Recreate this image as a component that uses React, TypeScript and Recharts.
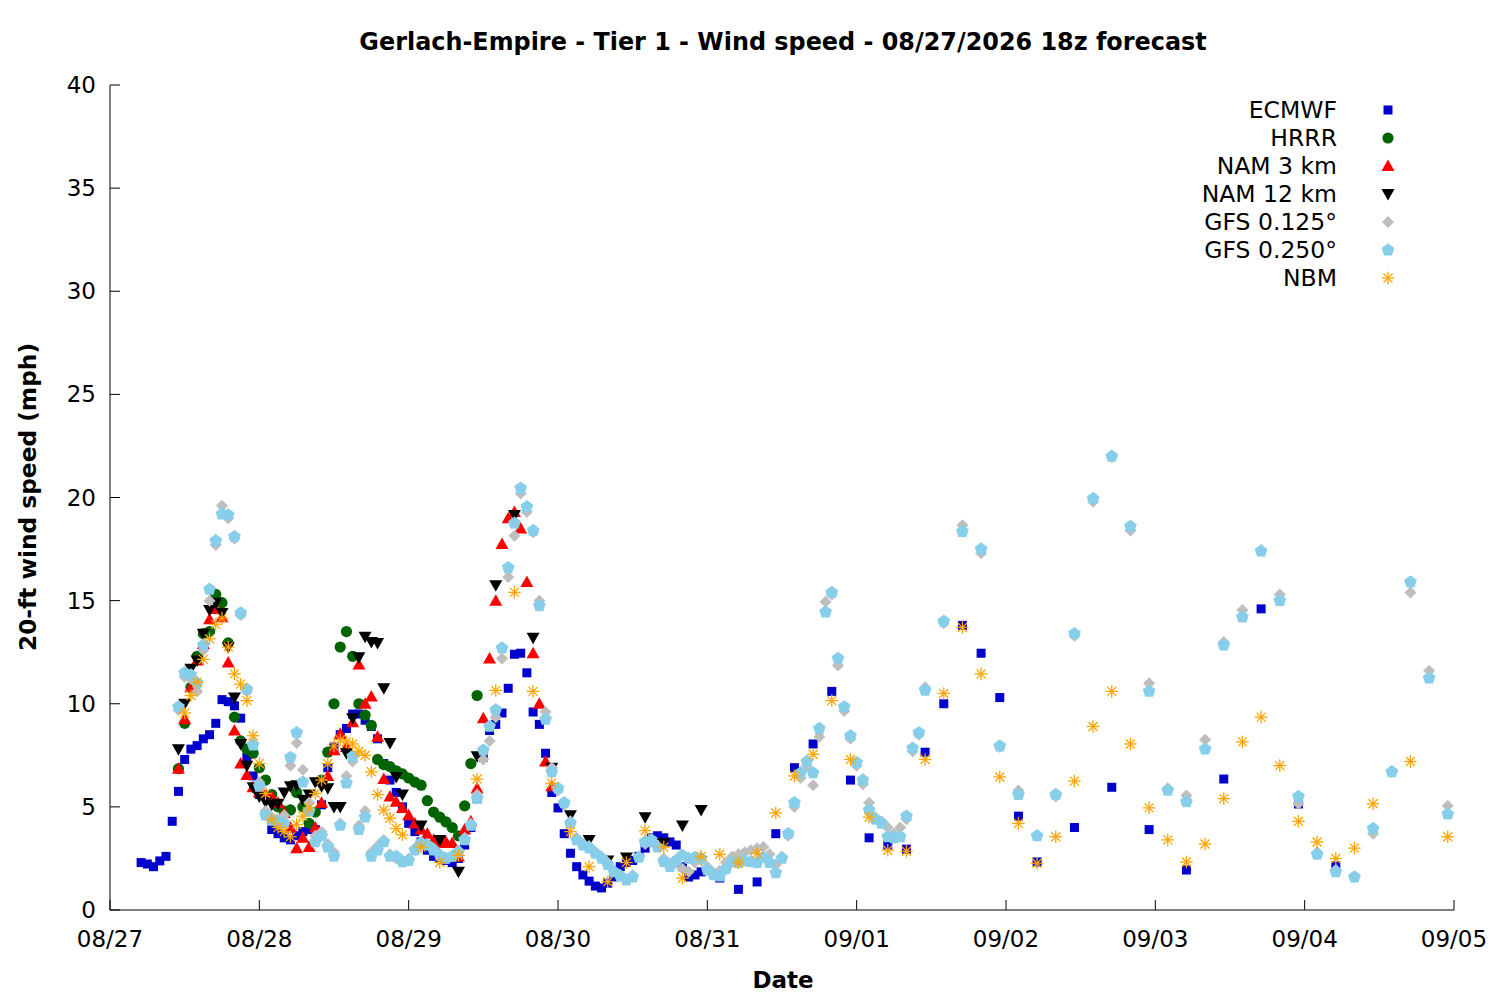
import React from 'react';
import { ScatterChart, Scatter, XAxis, YAxis, Legend, Label } from 'recharts';

// x = hours after 08/27 00:00, y = 20-ft wind speed (mph)
const dayLabels = ['08/27', '08/28', '08/29', '08/30', '08/31', '09/01', '09/02', '09/03', '09/04', '09/05'];
const xTicks = [0, 24, 48, 72, 96, 120, 144, 168, 192, 216];
const yTicks = [0, 5, 10, 15, 20, 25, 30, 35, 40];

const ecmwf: [number, number][] = [
  [5, 2.3], [6, 2.23], [7, 2.1], [8, 2.38], [9, 2.6], [10, 4.3], [11, 5.75], [12, 7.3], [13, 7.8], [14, 7.97],
  [15, 8.3], [16, 8.5], [17, 9.05], [18, 10.2], [19, 10.1], [20, 9.9], [21, 9.3], [22, 7.4], [23, 6.5], [24, 5.6],
  [25, 4.6], [26, 3.9], [27, 3.7], [28, 3.5], [29, 3.4], [30, 3.6], [31, 3.8], [32, 3.9], [33, 3.9], [34, 5.1],
  [35, 6.9], [36, 7.9], [37, 8.5], [38, 8.8], [39, 9.5], [40, 9.5], [41, 9.2], [42, 8.9], [43, 8.3], [44, 7.1],
  [45, 6.3], [46, 5.7], [47, 5.0], [48, 4.2], [49, 3.8], [50, 3.3], [51, 2.9], [52, 2.6], [53, 2.5], [54, 2.4],
  [55, 2.3], [56, 2.5], [57, 3.15], [58, 4.0], [59, 5.4], [60, 7.4], [61, 8.7], [62, 9.0], [63, 9.55], [64, 10.75],
  [65, 12.4], [66, 12.45], [67, 11.5], [68, 9.6], [69, 9.0], [70, 7.6], [71, 5.7], [72, 4.95], [73, 3.7], [74, 2.75],
  [75, 2.1], [76, 1.7], [77, 1.4], [78, 1.16], [79, 1.07], [80, 1.3], [81, 1.6], [82, 2.1], [83, 2.3], [84, 2.4],
  [85, 2.6], [86, 3.0], [87, 3.5], [88, 3.6], [89, 3.5], [90, 3.3], [91, 3.15], [92, 2.1], [93, 1.6], [94, 1.7],
  [95, 1.85], [98, 1.55], [101, 1.0], [104, 1.36], [107, 3.7], [110, 6.9], [113, 8.05], [116, 10.6], [119, 6.3],
  [122, 3.5], [125, 3.15], [128, 2.95], [131, 7.65], [134, 10.0], [137, 13.8], [140, 12.45], [143, 10.3], [146, 4.55],
  [149, 2.33], [155, 4.0], [161, 5.95], [167, 3.9], [173, 1.94], [179, 6.35], [185, 14.6], [191, 5.14], [197, 2.13],
];

const hrrr: [number, number][] = [
  [11, 6.85], [12, 9.05], [13, 10.8], [14, 12.3], [15, 13.4], [16, 13.5], [17, 15.3], [18, 14.9], [19, 12.95],
  [20, 9.35], [21, 8.2], [22, 7.8], [23, 7.6], [24, 6.9], [25, 6.3], [26, 5.6], [27, 5.0], [28, 4.8], [29, 4.85],
  [30, 5.7], [31, 5.0], [32, 4.2], [33, 4.75], [34, 6.3], [35, 7.65], [36, 10.0], [37, 12.75], [38, 13.5], [39, 12.3],
  [40, 10.0], [41, 9.45], [42, 8.95], [43, 7.3], [44, 7.05], [45, 6.95], [46, 6.75], [47, 6.6], [48, 6.4], [49, 6.2],
  [50, 6.05], [51, 5.3], [52, 4.75], [53, 4.5], [54, 4.27], [55, 4.0], [56, 3.6], [57, 5.05], [58, 7.1], [59, 10.4],
];

const nam3: [number, number][] = [
  [11, 6.85], [12, 9.25], [13, 10.8], [14, 12.1], [15, 12.9], [16, 14.1], [17, 14.6], [18, 14.2], [19, 12.0],
  [20, 8.7], [21, 7.1], [22, 6.55], [23, 5.95], [24, 5.7], [25, 5.6], [26, 5.5], [27, 5.2], [28, 4.7], [29, 4.0],
  [30, 3.0], [31, 3.5], [32, 3.05], [33, 4.0], [34, 5.2], [35, 6.5], [36, 7.75], [37, 8.55], [38, 7.9], [39, 9.1],
  [40, 11.9], [41, 10.0], [42, 10.35], [43, 8.4], [44, 6.35], [45, 5.5], [46, 5.25], [47, 4.95], [48, 4.6], [49, 4.2],
  [50, 3.9], [51, 3.7], [52, 3.4], [53, 3.25], [54, 3.3], [55, 3.25], [56, 2.6], [57, 3.9], [58, 4.3], [59, 5.9],
  [60, 9.3], [61, 12.2], [62, 15.0], [63, 17.75], [64, 19.0], [65, 19.3], [66, 18.5], [67, 15.9], [68, 12.45],
  [69, 10.0], [70, 7.2], [71, 6.0],
];

const nam12: [number, number][] = [
  [11, 7.8], [12, 10.0], [13, 11.7], [14, 12.1], [15, 13.4], [16, 14.55], [17, 14.9], [18, 14.4], [19, 12.75],
  [20, 10.3], [21, 8.05], [22, 7.0], [23, 5.95], [24, 5.5], [25, 5.25], [26, 5.1], [27, 5.15], [28, 5.7], [29, 6.0],
  [30, 6.05], [31, 5.35], [32, 5.6], [33, 6.2], [34, 6.0], [35, 5.9], [36, 5.0], [37, 5.0], [38, 7.6], [39, 9.3],
  [40, 12.25], [41, 13.25], [42, 13.0], [43, 12.95], [44, 10.75], [45, 8.1], [46, 6.45], [47, 5.6], [50, 4.1],
  [53, 3.4], [56, 1.85], [59, 7.45], [62, 15.75], [65, 19.15], [68, 13.2], [71, 6.9], [74, 4.6], [77, 3.4],
  [80, 2.4], [83, 2.55], [86, 4.5], [89, 3.25], [92, 4.1], [95, 4.85],
];

const gfs0125: [number, number][] = [
  [11, 9.7], [12, 11.3], [13, 11.2], [14, 10.6], [15, 12.6], [16, 15.0], [17, 17.7], [18, 19.6], [19, 19.0],
  [20, 18.0], [21, 14.3], [22, 10.6], [23, 8.1], [24, 6.2], [25, 4.8], [26, 4.5], [27, 4.4], [28, 4.6], [29, 7.0],
  [30, 8.1], [31, 6.8], [32, 5.2], [33, 3.6], [34, 3.8], [35, 3.2], [36, 2.8], [37, 4.2], [38, 6.5], [39, 7.2],
  [40, 4.1], [41, 4.8], [42, 2.8], [43, 3.1], [44, 3.4], [45, 2.7], [46, 2.5], [47, 2.4], [48, 2.5], [49, 3.0],
  [50, 3.3], [51, 3.2], [52, 3.0], [53, 2.7], [54, 2.5], [55, 2.6], [56, 2.9], [57, 3.5], [58, 4.2], [59, 5.6],
  [60, 7.3], [61, 8.2], [62, 9.35], [63, 12.2], [64, 16.15], [65, 18.15], [66, 20.2], [67, 19.3], [68, 18.3],
  [69, 15.0], [70, 9.6], [71, 6.9], [72, 5.8], [73, 5.1], [74, 4.3], [75, 3.5], [76, 3.2], [77, 3.1], [78, 2.8],
  [79, 2.6], [80, 2.3], [81, 1.9], [82, 1.7], [83, 1.5], [84, 1.7], [85, 2.6], [86, 3.2], [87, 3.3], [88, 3.1],
  [89, 2.5], [90, 2.2], [91, 2.3], [92, 2.0], [93, 1.85], [94, 2.3], [95, 2.4], [96, 2.1], [97, 1.8], [98, 1.9],
  [99, 2.3], [100, 2.6], [101, 2.7], [102, 2.8], [103, 2.9], [104, 3.0], [105, 3.05], [106, 2.7], [107, 2.2],
  [108, 2.6], [109, 3.6], [110, 5.0], [111, 6.4], [112, 7.0], [113, 6.05], [114, 8.4], [115, 14.95], [116, 15.3],
  [117, 11.85], [118, 9.65], [119, 8.3], [120, 7.0], [121, 6.1], [122, 5.2], [123, 4.5], [124, 4.3], [125, 4.0],
  [126, 3.7], [127, 4.0], [128, 4.4], [129, 7.7], [130, 8.5], [131, 10.8], [134, 13.9], [137, 18.65], [140, 17.3],
  [143, 7.9], [146, 5.8], [149, 3.6], [152, 5.5], [155, 13.3], [158, 19.8], [161, 21.95], [164, 18.4], [167, 11.0],
  [170, 5.9], [173, 5.55], [176, 8.25], [179, 13.0], [182, 14.55], [185, 17.45], [188, 15.3], [191, 5.15],
  [194, 2.8], [197, 1.95], [200, 1.6], [203, 3.7], [206, 6.7], [209, 15.4], [212, 11.6], [215, 5.05],
];

const gfs0250: [number, number][] = [
  [11, 9.85], [12, 11.5], [13, 11.4], [14, 11.0], [15, 12.85], [16, 15.55], [17, 17.9], [18, 19.2], [19, 19.15],
  [20, 18.1], [21, 14.4], [22, 10.7], [23, 8.0], [24, 6.0], [25, 4.6], [26, 4.35], [27, 4.3], [28, 4.2], [29, 7.4],
  [30, 8.6], [31, 6.2], [32, 4.8], [33, 3.3], [34, 3.6], [35, 3.05], [36, 2.6], [37, 4.1], [38, 6.15], [39, 7.45],
  [40, 3.9], [41, 4.5], [42, 2.6], [43, 2.9], [44, 3.3], [45, 2.6], [46, 2.6], [47, 2.33], [48, 2.4], [49, 2.9],
  [50, 3.25], [51, 3.15], [52, 2.9], [53, 2.65], [54, 2.5], [55, 2.6], [56, 2.8], [57, 3.4], [58, 4.1], [59, 5.4],
  [60, 7.75], [61, 8.9], [62, 9.7], [63, 12.7], [64, 16.6], [65, 18.75], [66, 20.45], [67, 19.55], [68, 18.4],
  [69, 14.75], [70, 9.25], [71, 6.7], [72, 5.9], [73, 5.2], [74, 4.2], [75, 3.4], [76, 3.15], [77, 3.0], [78, 2.75],
  [79, 2.5], [80, 2.2], [81, 1.85], [82, 1.65], [83, 1.45], [84, 1.6], [85, 2.55], [86, 3.3], [87, 3.4], [88, 3.05],
  [89, 2.35], [90, 2.1], [91, 2.4], [92, 2.65], [93, 2.5], [94, 2.55], [95, 2.5], [96, 1.95], [97, 1.7], [98, 1.65],
  [99, 2.0], [100, 2.33], [101, 2.3], [102, 2.38], [103, 2.33], [104, 2.3], [105, 2.55], [106, 2.3], [107, 1.8],
  [108, 2.5], [109, 3.7], [110, 5.2], [111, 6.65], [112, 7.2], [113, 6.65], [114, 8.8], [115, 14.45], [116, 15.4],
  [117, 12.2], [118, 9.85], [119, 8.45], [120, 7.15], [121, 6.3], [122, 4.85], [123, 4.4], [124, 4.2], [125, 3.55],
  [126, 3.5], [127, 3.55], [128, 4.55], [129, 7.85], [130, 8.6], [131, 10.65], [134, 14.0], [137, 18.35], [140, 17.5],
  [143, 7.95], [146, 5.6], [149, 3.6], [152, 5.6], [155, 13.4], [158, 19.95], [161, 22.0], [164, 18.6], [167, 10.6],
  [170, 5.8], [173, 5.25], [176, 7.8], [179, 12.85], [182, 14.2], [185, 17.4], [188, 15.0], [191, 5.5], [194, 2.7],
  [197, 1.85], [200, 1.6], [203, 3.95], [206, 6.7], [209, 15.9], [212, 11.25], [215, 4.65],
];

const nbm: [number, number][] = [
  [12, 9.55], [13, 10.4], [14, 11.05], [15, 12.15], [16, 13.15], [17, 13.85], [18, 14.15], [19, 12.75], [20, 11.45],
  [21, 10.95], [22, 10.15], [23, 8.45], [24, 7.1], [25, 5.65], [26, 4.4], [27, 4.0], [28, 3.8], [29, 3.55],
  [30, 4.15], [31, 4.55], [32, 4.95], [33, 5.65], [34, 6.3], [35, 7.1], [36, 7.95], [37, 8.25], [38, 8.15],
  [39, 8.05], [40, 7.7], [41, 7.5], [42, 6.7], [43, 5.6], [44, 4.85], [45, 4.45], [46, 3.95], [47, 3.65], [50, 3.05],
  [53, 2.3], [56, 2.65], [59, 6.35], [62, 10.65], [65, 15.4], [68, 10.6], [71, 6.15], [74, 3.8], [77, 2.1],
  [80, 1.37], [83, 2.3], [86, 3.85], [89, 3.05], [92, 1.55], [95, 2.6], [98, 2.7], [101, 2.3], [104, 2.75],
  [107, 4.7], [110, 6.5], [113, 7.55], [116, 10.15], [119, 7.3], [122, 4.5], [125, 2.9], [128, 2.85], [131, 7.3],
  [134, 10.5], [137, 13.7], [140, 11.45], [143, 6.45], [146, 4.2], [149, 2.27], [152, 3.55], [155, 6.25], [158, 8.9],
  [161, 10.6], [164, 8.05], [167, 4.95], [170, 3.4], [173, 2.33], [176, 3.2], [179, 5.4], [182, 8.15], [185, 9.35],
  [188, 7.0], [191, 4.3], [194, 3.3], [197, 2.5], [200, 3.0], [203, 5.15], [209, 7.2], [215, 3.55],
];

const FONT = '"DejaVu Sans", Verdana, sans-serif';
const toPts = (arr: [number, number][]) => arr.map(([h, v]) => ({ h, v }));

type SP = { cx?: number; cy?: number };
const SquareMark = ({ cx = 0, cy = 0 }: SP) => (
  <rect x={cx - 4.5} y={cy - 4.5} width={9} height={9} fill="#0000cc" />
);
const CircleMark = ({ cx = 0, cy = 0 }: SP) => <circle cx={cx} cy={cy} r={5.6} fill="#006400" />;
const UpTri = ({ cx = 0, cy = 0 }: SP) => (
  <polygon points={`${cx},${cy - 6.5} ${cx + 6.5},${cy + 5} ${cx - 6.5},${cy + 5}`} fill="#ff0000" />
);
const DownTri = ({ cx = 0, cy = 0 }: SP) => (
  <polygon points={`${cx - 6.5},${cy - 5} ${cx + 6.5},${cy - 5} ${cx},${cy + 6.5}`} fill="#000000" />
);
const DiamondMark = ({ cx = 0, cy = 0 }: SP) => (
  <polygon points={`${cx},${cy - 6} ${cx + 6},${cy} ${cx},${cy + 6} ${cx - 6},${cy}`} fill="#bebebe" />
);
const PentaMark = ({ cx = 0, cy = 0 }: SP) => {
  const r = 6.7;
  const pts = [0, 1, 2, 3, 4]
    .map((k) => {
      const a = (-90 + 72 * k) * (Math.PI / 180);
      return `${cx + r * Math.cos(a)},${cy + r * Math.sin(a)}`;
    })
    .join(' ');
  return <polygon points={pts} fill="#87ceeb" />;
};
const StarMark = ({ cx = 0, cy = 0 }: SP) => {
  const d = 6.3;
  const e = 4.5;
  return (
    <g stroke="#ffa500" strokeWidth={1.3}>
      <line x1={cx - d} y1={cy} x2={cx + d} y2={cy} />
      <line x1={cx} y1={cy - d} x2={cx} y2={cy + d} />
      <line x1={cx - e} y1={cy - e} x2={cx + e} y2={cy + e} />
      <line x1={cx - e} y1={cy + e} x2={cx + e} y2={cy - e} />
    </g>
  );
};

const series = [
  { name: 'ECMWF', data: ecmwf, Mark: SquareMark },
  { name: 'HRRR', data: hrrr, Mark: CircleMark },
  { name: 'NAM 3 km', data: nam3, Mark: UpTri },
  { name: 'NAM 12 km', data: nam12, Mark: DownTri },
  { name: 'GFS 0.125°', data: gfs0125, Mark: DiamondMark },
  { name: 'GFS 0.250°', data: gfs0250, Mark: PentaMark },
  { name: 'NBM', data: nbm, Mark: StarMark },
];

const BottomTick = (props: any) => {
  const { x, y, payload } = props;
  const i = xTicks.indexOf(payload.value);
  return (
    <g>
      <line x1={x} y1={y} x2={x} y2={y - 10} stroke="#000" strokeWidth={1} />
      <text x={x} y={y + 37} textAnchor="middle" fontSize={23} fontFamily={FONT} fill="#000">
        {dayLabels[i]}
      </text>
    </g>
  );
};
const TopTick = (props: any) => {
  const { x, y } = props;
  return <line x1={x} y1={y} x2={x} y2={y + 10} stroke="#000" strokeWidth={1} />;
};
const LeftTick = (props: any) => {
  const { x, y, payload } = props;
  return (
    <g>
      <line x1={x} y1={y} x2={x + 10} y2={y} stroke="#000" strokeWidth={1} />
      <text x={x - 14} y={y + 8} textAnchor="end" fontSize={23} fontFamily={FONT} fill="#000">
        {payload.value}
      </text>
    </g>
  );
};
const RightTick = (props: any) => {
  const { x, y } = props;
  return <line x1={x} y1={y} x2={x - 10} y2={y} stroke="#000" strokeWidth={1} />;
};

const LegendBox = () => (
  <svg width={320} height={200}>
    {series.map((s, i) => {
      const cy = 15 + 28 * i;
      const M = s.Mark;
      return (
        <g key={s.name}>
          <text x={237} y={cy + 8} textAnchor="end" fontSize={23.5} fontFamily={FONT} fill="#000">
            {s.name}
          </text>
          <M cx={288} cy={cy} />
        </g>
      );
    })}
  </svg>
);

export default function App() {
  return (
    <div style={{ position: 'absolute', left: 0, top: 0, width: 1500, height: 1000, background: '#fff' }}>
      <div
        style={{
          position: 'absolute',
          left: 283,
          width: 1000,
          top: 27,
          textAlign: 'center',
          fontFamily: FONT,
          fontWeight: 'bold',
          fontSize: 23.9,
          lineHeight: '30px',
          color: '#000',
        }}
      >
        Gerlach-Empire - Tier 1 - Wind speed - 08/27/2026 18z forecast
      </div>
      <ScatterChart width={1500} height={1000} margin={{ top: 85, right: 46, bottom: 0, left: 0 }}>
        <XAxis
          xAxisId={0}
          dataKey="h"
          type="number"
          domain={[0, 216]}
          ticks={xTicks}
          interval={0}
          allowDataOverflow
          height={90}
          tickSize={0}
          tickMargin={0}
          tickLine={false}
          axisLine={{ stroke: '#000', strokeWidth: 1 }}
          tick={BottomTick}
        >
          <Label
            content={() => (
              <text x={783} y={988} textAnchor="middle" fontSize={23} fontWeight="bold" fontFamily={FONT} fill="#000">
                Date
              </text>
            )}
          />
        </XAxis>
        <XAxis
          xAxisId="top"
          orientation="top"
          dataKey="h"
          type="number"
          domain={[0, 216]}
          ticks={xTicks}
          interval={0}
          allowDataOverflow
          height={0}
          tickSize={0}
          tickMargin={0}
          tickLine={false}
          axisLine={{ stroke: '#000', strokeWidth: 1 }}
          tick={TopTick}
        />
        <YAxis
          yAxisId={0}
          dataKey="v"
          type="number"
          domain={[0, 40]}
          ticks={yTicks}
          interval={0}
          allowDataOverflow
          width={110}
          tickSize={0}
          tickMargin={0}
          tickLine={false}
          axisLine={{ stroke: '#000', strokeWidth: 1 }}
          tick={LeftTick}
        >
          <Label
            content={() => (
              <text
                x={36}
                y={497}
                transform="rotate(-90 36 497)"
                textAnchor="middle"
                fontSize={23.3}
                fontWeight="bold"
                fontFamily={FONT}
                fill="#000"
              >
                20-ft wind speed (mph)
              </text>
            )}
          />
        </YAxis>
        <YAxis
          yAxisId="right"
          orientation="right"
          dataKey="v"
          type="number"
          domain={[0, 40]}
          ticks={yTicks}
          interval={0}
          allowDataOverflow
          width={0}
          tickSize={0}
          tickMargin={0}
          tickLine={false}
          axisLine={{ stroke: '#000', strokeWidth: 1 }}
          tick={RightTick}
        />
        {series.map((s) => {
          const M = s.Mark;
          return (
            <Scatter
              key={s.name}
              name={s.name}
              data={toPts(s.data)}
              xAxisId={0}
              yAxisId={0}
              isAnimationActive={false}
              shape={(p: any) => <M cx={p.cx} cy={p.cy} />}
            />
          );
        })}
        <Legend
          layout="horizontal"
          verticalAlign="middle"
          align="center"
          content={() => <LegendBox />}
          wrapperStyle={{ position: 'absolute', left: 1100, top: 95, width: 320, height: 200 }}
        />
      </ScatterChart>
    </div>
  );
}
